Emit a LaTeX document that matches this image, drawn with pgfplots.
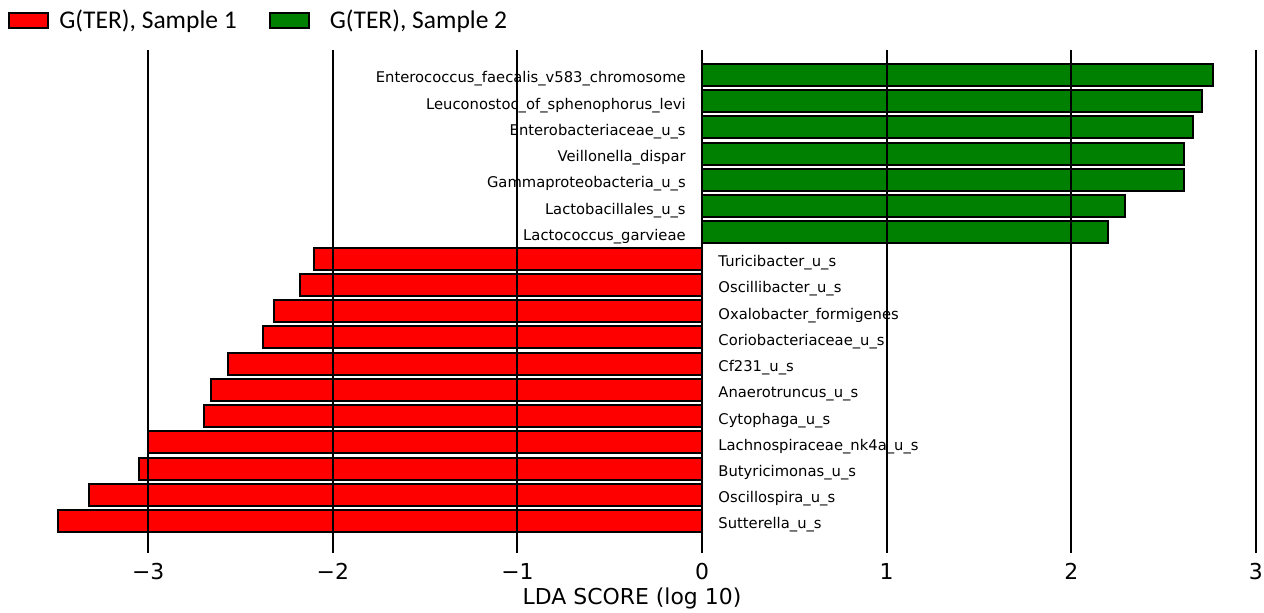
\documentclass[border=0pt]{standalone}
\usepackage{fontspec}
\setmainfont{DejaVu Sans}
\newfontfamily\legendfont{Carlito}
\usepackage{pgfplots}
\pgfplotsset{compat=1.18}
\definecolor{barred}{RGB}{255,0,0}
\definecolor{bargreen}{RGB}{0,128,0}
\begin{document}
\begin{tikzpicture}
\begin{axis}[
  scale only axis,
  width=631.8bp, height=251.5bp,
  xmin=-3.803, xmax=3.044,
  ymin=-1.22, ymax=17.95,
  axis line style={draw=none},
  ytick=\empty,
  xtick={-3,-2,-1,0,1,2,3},
  xticklabels={−3,−2,−1,0,1,2,3},
  major tick length=0pt,
  xmajorgrids,
  grid style={black, line width=1bp},
  axis on top,
  clip=false,
  xticklabel style={font=\fontsize{11}{13}\selectfont, yshift=-1.5bp},
  xlabel={LDA SCORE (log 10)},
  xlabel style={font=\fontsize{11}{13}\selectfont, yshift=3bp},
  legend columns=2,
  legend style={draw=none, fill=none, inner sep=0pt, at={(0.0063,1.058)}, anchor=west,
    font=\legendfont\fontsize{12.8}{14}\selectfont,
    /tikz/every even column/.append style={column sep=14bp},
    /tikz/every odd column/.append style={column sep=3bp}},
  legend image code/.code={\draw[#1] (0bp,-3.75bp) rectangle (19.5bp,3.75bp);},
]
\addplot[xbar, bar shift=0pt, bar width=0.84, fill=barred, draw=black, line width=1bp] coordinates {
 (-3.49,0) (-3.32,1) (-3.05,2) (-3.00,3) (-2.70,4) (-2.66,5) (-2.57,6)
 (-2.38,7) (-2.32,8) (-2.18,9) (-2.10,10)
};
\addlegendentry{G(TER), Sample 1}
\addplot[xbar, bar shift=0pt, bar width=0.84, fill=bargreen, draw=black, line width=1bp] coordinates {
 (2.20,11) (2.29,12) (2.61,13) (2.61,14) (2.66,15) (2.71,16) (2.77,17)
};
\addlegendentry{\hspace{5bp}G(TER), Sample 2}
\addplot[forget plot, only marks, mark=none, point meta=explicit symbolic,
  nodes near coords,
  every node near coord/.style={anchor=west, xshift=8bp, yshift=-2bp, inner sep=0pt, font=\fontsize{7.4}{8.5}\selectfont}]
 coordinates {
 (0,0) [Sutterella\_u\_s]
 (0,1) [Oscillospira\_u\_s]
 (0,2) [Butyricimonas\_u\_s]
 (0,3) [Lachnospiraceae\_nk4a\_u\_s]
 (0,4) [Cytophaga\_u\_s]
 (0,5) [Anaerotruncus\_u\_s]
 (0,6) [Cf231\_u\_s]
 (0,7) [Coriobacteriaceae\_u\_s]
 (0,8) [Oxalobacter\_formigenes]
 (0,9) [Oscillibacter\_u\_s]
 (0,10) [Turicibacter\_u\_s]
};
\addplot[forget plot, only marks, mark=none, point meta=explicit symbolic,
  nodes near coords,
  every node near coord/.style={anchor=east, xshift=-8bp, yshift=-2bp, inner sep=0pt, font=\fontsize{7.4}{8.5}\selectfont}]
 coordinates {
 (0,11) [Lactococcus\_garvieae]
 (0,12) [Lactobacillales\_u\_s]
 (0,13) [Gammaproteobacteria\_u\_s]
 (0,14) [Veillonella\_dispar]
 (0,15) [Enterobacteriaceae\_u\_s]
 (0,16) [Leuconostoc\_of\_sphenophorus\_levi]
 (0,17) [Enterococcus\_faecalis\_v583\_chromosome]
};
\coordinate (bbsw) at (axis cs:-3.803,-3.468);
\coordinate (bbne) at (axis cs:3.044,19.855);
\end{axis}
\pgfresetboundingbox
\path[use as bounding box] (bbsw) rectangle (bbne);
\end{tikzpicture}
\end{document}
